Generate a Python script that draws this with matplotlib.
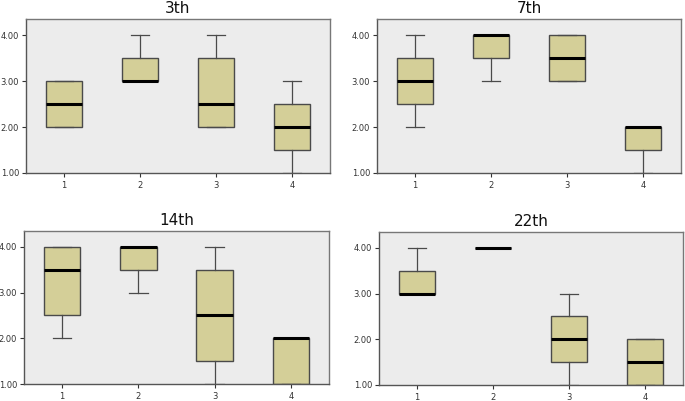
import matplotlib
matplotlib.use("Agg")
import matplotlib.pyplot as plt

# Box statistics per panel, groups 1..4
titles = ["3th", "7th", "14th", "22th"]
groups = ["1", "2", "3", "4"]
ytick_vals = [1.0, 2.0, 3.0, 4.0]

q1 = [[2.0, 3.0, 2.0, 1.5],
      [2.5, 3.5, 3.0, 1.5],
      [2.5, 3.5, 1.5, 1.0],
      [3.0, 4.0, 1.5, 1.0]]
med = [[2.5, 3.0, 2.5, 2.0],
       [3.0, 4.0, 3.5, 2.0],
       [3.5, 4.0, 2.5, 2.0],
       [3.0, 4.0, 2.0, 1.5]]
q3 = [[3.0, 3.5, 3.5, 2.5],
      [3.5, 4.0, 4.0, 2.0],
      [4.0, 4.0, 3.5, 2.0],
      [3.5, 4.0, 2.5, 2.0]]
wlo = [[2.0, 3.0, 2.0, 1.0],
       [2.0, 3.0, 3.0, 1.0],
       [2.0, 3.0, 1.0, 1.0],
       [3.0, 4.0, 1.0, 1.0]]
whi = [[3.0, 4.0, 4.0, 3.0],
       [4.0, 4.0, 4.0, 2.0],
       [4.0, 4.0, 4.0, 2.0],
       [4.0, 4.0, 3.0, 2.0]]

# axes rectangles in pixels (left, top, right, bottom)
W, H = 685, 401
rects = [(26, 19, 330, 173), (377, 19, 681, 173),
         (24, 231, 329, 384), (379, 232, 683, 385)]

fig = plt.figure(figsize=(W / 100, H / 100), dpi=100, facecolor="white")

for i in range(4):
    l, t, r, b = rects[i]
    ax = fig.add_axes([l / W, 1 - b / H, (r - l) / W, (b - t) / H])
    ax.set_facecolor("#ececec")
    stats = []
    for j in range(4):
        stats.append(dict(med=med[i][j], q1=q1[i][j], q3=q3[i][j],
                          whislo=wlo[i][j], whishi=whi[i][j], fliers=[]))
    ax.bxp(stats, positions=[1, 2, 3, 4], widths=0.48, patch_artist=True,
           showfliers=False,
           boxprops=dict(facecolor="#d4cf98", edgecolor="#4a4a4a", linewidth=1.0),
           medianprops=dict(color="black", linewidth=2.2),
           whiskerprops=dict(color="#4a4a4a", linewidth=0.9),
           capprops=dict(color="#4a4a4a", linewidth=0.9),
           capwidths=0.24)
    ax.set_xlim(0.5, 4.5)
    ax.set_ylim(1.0, 4.35)
    ax.set_yticks(ytick_vals)
    ax.set_yticklabels(["%.2f" % v for v in ytick_vals])
    ax.set_xticks([1, 2, 3, 4])
    ax.set_xticklabels(groups)
    ax.tick_params(axis="both", labelsize=6, colors="#333333", length=3,
                   width=0.8, pad=2)
    ax.tick_params(axis="x", pad=3)
    for sp in ax.spines.values():
        sp.set_color("#777777")
        sp.set_linewidth(1.0)
    ax.spines["left"].set_color("#555555")
    ax.spines["bottom"].set_color("#555555")
    ax.set_title(titles[i], fontsize=11, pad=4, color="#111111")

fig.savefig("out.png", dpi=100)
